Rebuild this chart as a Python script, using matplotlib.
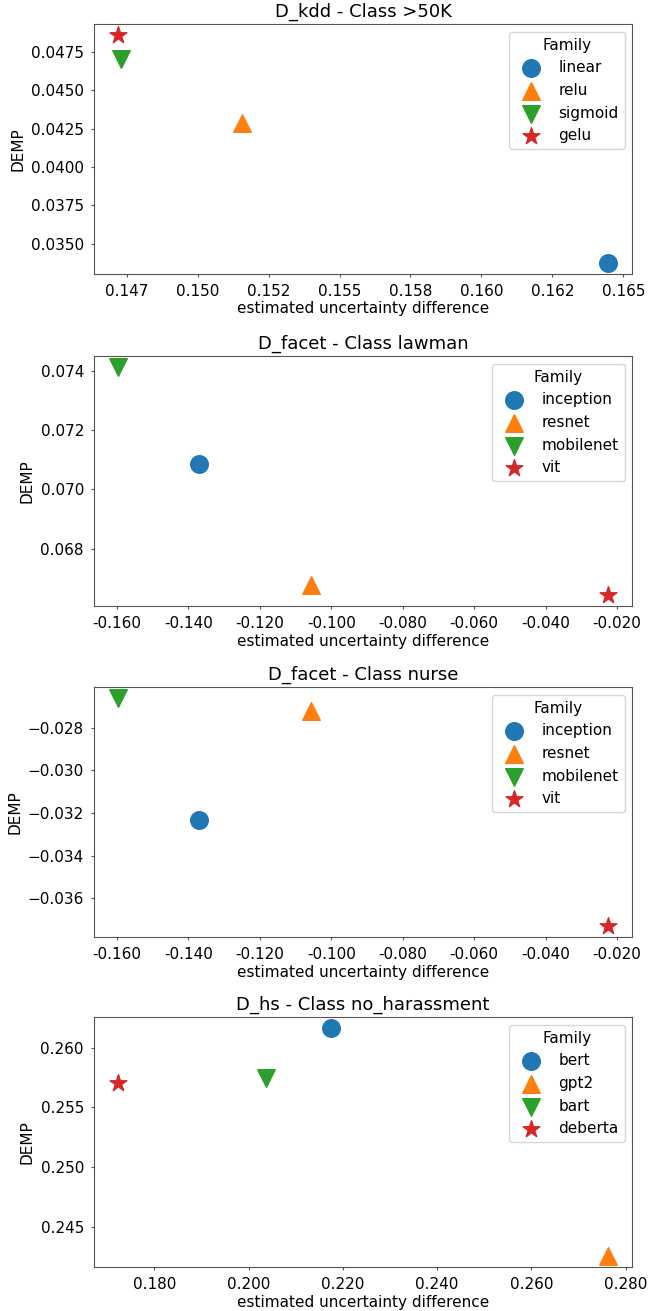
import matplotlib
matplotlib.use('Agg')
import matplotlib.pyplot as plt
from matplotlib.ticker import FormatStrFormatter

markers = ['o', '^', 'v', '*']
colors = ['#1f77b4', '#ff7f0e', '#2ca02c', '#d62728']

# D_kdd - Class >50K
kdd_names = ['linear', 'relu', 'sigmoid', 'gelu']
kdd_x = [0.16445, 0.15155, 0.1473, 0.1472]
kdd_y = [0.03376, 0.0429, 0.04702, 0.04859]

# D_facet - Class lawman
facet_names = ['inception', 'resnet', 'mobilenet', 'vit']
lawman_x = [-0.13712, -0.10579, -0.15964, -0.02262]
lawman_y = [0.07085, 0.06677, 0.07412, 0.06645]

# D_facet - Class nurse
nurse_x = [-0.13712, -0.10579, -0.15964, -0.02262]
nurse_y = [-0.03234, -0.02720, -0.02663, -0.03728]

# D_hs - Class no_harassment
hs_names = ['bert', 'gpt2', 'bart', 'deberta']
hs_x = [0.21749, 0.27621, 0.20376, 0.17232]
hs_y = [0.26161, 0.24261, 0.25747, 0.25708]

panels = [
    ('D_kdd - Class >50K', kdd_names, kdd_x, kdd_y, 0.0025, 0.0025),
    ('D_facet - Class lawman', facet_names, lawman_x, lawman_y, 0.02, 0.002),
    ('D_facet - Class nurse', facet_names, nurse_x, nurse_y, 0.02, 0.002),
    ('D_hs - Class no_harassment', hs_names, hs_x, hs_y, 0.02, 0.005),
]
# axes top edges in pixels (from the top of the figure)
tops = [24, 356, 687, 1017]
W, H = 667, 1311

fig = plt.figure(figsize=(W / 100, H / 100), dpi=100)
for (title, names, xs, ys, xstep, ystep), t in zip(panels, tops):
    ax = fig.add_axes([93.7 / W, 1 - (t + 250) / H, 538.5 / W, 250 / H])
    for name, x, y, m, c in zip(names, xs, ys, markers, colors):
        ax.scatter(x, y, s=160, marker=m, color=c, label=name)
    ax.set_title(title, fontsize=13, pad=5)
    ax.set_xlabel('estimated uncertainty difference', fontsize=11, labelpad=2)
    ax.set_ylabel('DEMP', fontsize=11)
    ax.xaxis.set_major_locator(plt.MultipleLocator(xstep))
    ax.xaxis.set_major_formatter(FormatStrFormatter('%.3f'))
    ax.yaxis.set_major_locator(plt.MultipleLocator(ystep))
    ax.tick_params(labelsize=11, length=2.5, pad=4.5, color='#555555')
    for s in ax.spines.values():
        s.set_color('#555555')
    ax.legend(title='Family', loc='upper right', fontsize=11, title_fontsize=11)

fig.savefig('out.png', dpi=100)
